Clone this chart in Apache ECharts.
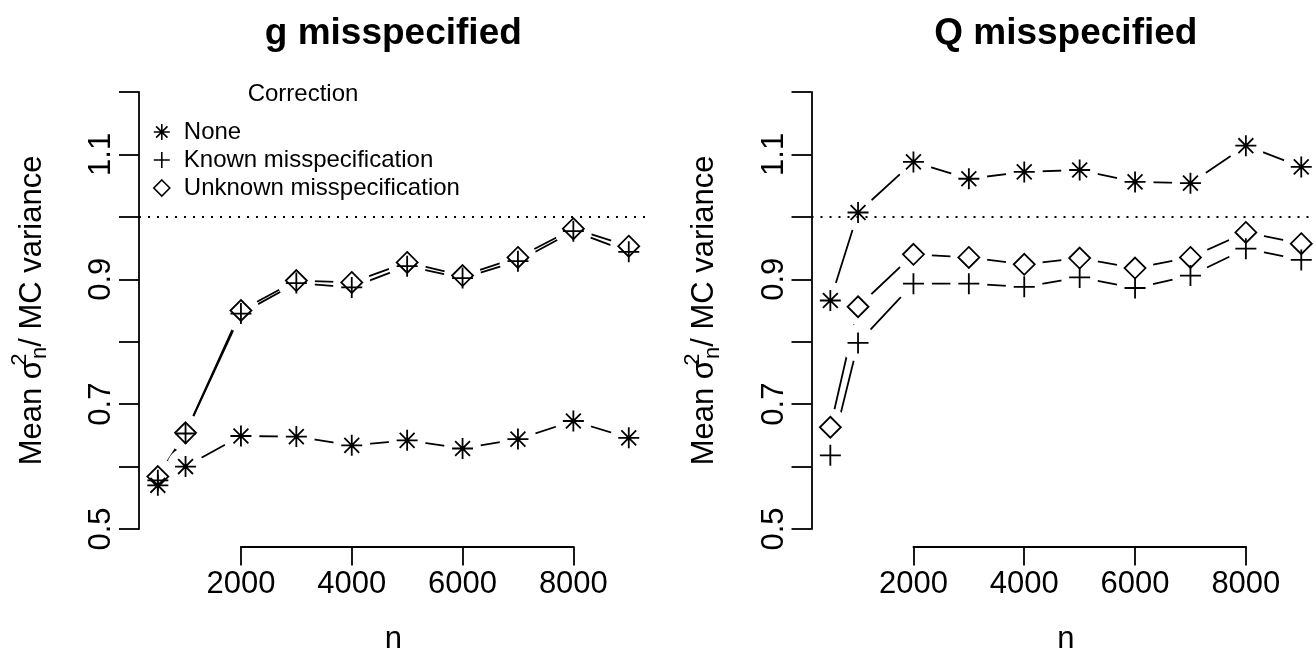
<!DOCTYPE html>
<html><head><meta charset="utf-8">
<script src="https://cdn.jsdelivr.net/npm/echarts@6/dist/echarts.min.js"></script>
<style>html,body{margin:0;padding:0;background:#fff}#c{width:1314px;height:658px}</style>
</head><body><div id="c"></div>
<script>
// ---- data ----
const nValues = [500, 1000, 2000, 3000, 4000, 5000, 6000, 7000, 8000, 9000];
const gNone    = [0.570, 0.600, 0.649, 0.648, 0.634, 0.642, 0.629, 0.644, 0.673, 0.646];
const gKnown   = [0.578, 0.653, 0.845, 0.894, 0.887, 0.921, 0.902, 0.929, 0.977, 0.944];
const gUnknown = [0.584, 0.654, 0.850, 0.898, 0.895, 0.927, 0.906, 0.935, 0.981, 0.953];
const qNone    = [0.866, 1.007, 1.088, 1.061, 1.072, 1.075, 1.056, 1.054, 1.114, 1.080];
const qKnown   = [0.618, 0.798, 0.893, 0.893, 0.888, 0.903, 0.886, 0.906, 0.949, 0.931];
const qUnknown = [0.663, 0.856, 0.940, 0.935, 0.924, 0.934, 0.918, 0.935, 0.975, 0.957];
const xTicks = [2000, 4000, 6000, 8000];
const yTickLabels = ['0.5', '0.7', '0.9', '1.1'];
const referenceLevel = 1.0;
const panelTitles = ['g misspecified', 'Q misspecified'];
const seriesNames = ['None', 'Known misspecification', 'Unknown misspecification'];
const legendTitle = 'Correction';
const xName = 'n';
const yNameRich = '{t|Mean σ}{sup|2}{sub|n}{t|/ MC variance}';

// ---- layout / style ----
const FONT = "'Liberation Sans', Arial, Helvetica, sans-serif";
const X_RANGE = [160, 9340];
const Y_RANGE = [0.472, 1.228];
const Y_TICK_RANGE = [0.5, 1.2];
const panelsLayout = [
  { left: 139, top: 74.5, width: 508.6, height: 472 },
  { left: 811.5, top: 74.5, width: 508.6, height: 472 }
];
const STAR = 'path://M0,-1L0,1M-1,0L1,0M-0.7071,-0.7071L0.7071,0.7071M-0.7071,0.7071L0.7071,-0.7071';
const PLUS = 'path://M0,-1L0,1M-1,0L1,0';
const DIAMOND = 'path://M0,-1L1,0L0,1L-1,0Z';
const symbols = [STAR, PLUS, DIAMOND];
const LW = 1.8;

const panelData = [[gNone, gKnown, gUnknown], [qNone, qKnown, qUnknown]];

function px(L, v) { return L.left + (v - X_RANGE[0]) / (X_RANGE[1] - X_RANGE[0]) * L.width; }
function py(L, v) { return L.top + (Y_RANGE[1] - v) / (Y_RANGE[1] - Y_RANGE[0]) * L.height; }

const grids = [], xAxes = [], yAxes = [], series = [], titles = [];
const hiddenAxisBits = { axisLine: { show: false }, axisTick: { show: false }, axisLabel: { show: false }, splitLine: { show: false } };
function mkGrid(left, top, width, height) {
  return { left: left, top: top, width: width, height: height, containLabel: false, outerBoundsMode: 'none' };
}

panelsLayout.forEach((L, p) => {
  const gi = grids.length;
  // data grid
  grids.push(mkGrid(L.left, L.top, L.width, L.height));
  xAxes.push(Object.assign({ type: 'value', gridIndex: gi, min: X_RANGE[0], max: X_RANGE[1],
    name: xName, nameLocation: 'middle', nameGap: 77,
    nameTextStyle: { fontFamily: FONT, fontSize: 31, color: '#000' } }, hiddenAxisBits));
  yAxes.push(Object.assign({ type: 'value', gridIndex: gi, min: Y_RANGE[0], max: Y_RANGE[1],
    name: yNameRich, nameLocation: 'middle', nameRotate: 90, nameGap: 84,
    nameTextStyle: { fontFamily: FONT, color: '#000',
      rich: {
        t: { fontFamily: FONT, fontSize: 31, lineHeight: 46, color: '#000' },
        sup: { fontFamily: FONT, fontSize: 22, lineHeight: 22, verticalAlign: 'top', width: 1, align: 'left', color: '#000' },
        sub: { fontFamily: FONT, fontSize: 22, lineHeight: 22, verticalAlign: 'bottom', padding: [0, 0, 4, 0], color: '#000' }
      } } }, hiddenAxisBits));
  // x decoration grid (axis spans first to last tick)
  const x0 = px(L, xTicks[0]), x1 = px(L, xTicks[xTicks.length - 1]);
  grids.push(mkGrid(x0, L.top, x1 - x0, L.height));
  xAxes.push({ type: 'value', gridIndex: gi + 1, z: 10, min: xTicks[0], max: xTicks[xTicks.length - 1], interval: xTicks[1] - xTicks[0],
    axisLine: { show: true, lineStyle: { color: '#000', width: LW } },
    axisTick: { show: true, inside: false, length: 19, lineStyle: { color: '#000', width: LW } },
    axisLabel: { show: true, margin: 22, fontFamily: FONT, fontSize: 31, color: '#000',
      formatter: v => String(Math.round(v)) },
    splitLine: { show: false } });
  yAxes.push(Object.assign({ type: 'value', gridIndex: gi + 1, min: 0, max: 1, show: false }, hiddenAxisBits));
  // y decoration grid
  const y0 = py(L, Y_TICK_RANGE[1]), y1 = py(L, Y_TICK_RANGE[0]);
  grids.push(mkGrid(L.left, y0, L.width, y1 - y0));
  xAxes.push(Object.assign({ type: 'value', gridIndex: gi + 2, min: 0, max: 1, show: false }, hiddenAxisBits));
  yAxes.push({ type: 'value', gridIndex: gi + 2, z: 10, min: Y_TICK_RANGE[0], max: Y_TICK_RANGE[1], interval: 0.1,
    axisLine: { show: true, lineStyle: { color: '#000', width: LW } },
    axisTick: { show: true, inside: false, length: 20, lineStyle: { color: '#000', width: LW } },
    axisLabel: { show: true, rotate: 90, margin: 22, fontFamily: FONT, fontSize: 31, color: '#000',
      formatter: v => { const s = (+v).toFixed(1); return yTickLabels.indexOf(s) >= 0 ? s : ''; } },
    splitLine: { show: false } });

  titles.push({ text: panelTitles[p], left: L.left + L.width / 2, textAlign: 'center', top: 15.5, padding: 0,
    textStyle: { fontFamily: FONT, fontSize: 37, fontWeight: 'bold', color: '#000' } });

  panelData[p].forEach((vals, g) => {
    const pts = nValues.map((n, i) => [n, vals[i]]);
    series.push({ type: 'line', name: seriesNames[g], xAxisIndex: gi, yAxisIndex: gi, data: pts,
      symbol: 'none', showSymbol: false, silent: true, z: 1,
      lineStyle: { color: '#000', width: LW, opacity: 1 } });
    series.push({ type: 'scatter', name: seriesNames[g], xAxisIndex: gi, yAxisIndex: gi, data: pts,
      symbol: 'circle', symbolSize: 37, silent: true, z: 2, clip: false,
      itemStyle: { color: '#fff', borderWidth: 0, opacity: 1 } });
    const m = { type: 'scatter', name: seriesNames[g], xAxisIndex: gi, yAxisIndex: gi, data: pts,
      symbol: symbols[g], symbolSize: 21, z: 3, clip: false,
      itemStyle: { color: 'transparent', borderColor: '#000', borderWidth: LW, opacity: 1 } };
    if (g === 0) {
      m.markLine = { silent: true, symbol: 'none', label: { show: false },
        lineStyle: { color: '#000', width: LW, type: [2, 7], opacity: 1 },
        data: [{ yAxis: referenceLevel }] };
    }
    series.push(m);
  });
});

titles.push({ text: legendTitle, left: 303, textAlign: 'center', top: 82.7, padding: 0,
  textStyle: { fontFamily: FONT, fontSize: 24, fontWeight: 'normal', color: '#000' } });

const option = {
  animation: false,
  backgroundColor: '#fff',
  title: titles,
  grid: grids,
  xAxis: xAxes,
  yAxis: yAxes,
  legend: {
    orient: 'vertical', left: 153, top: 120, padding: 0, itemWidth: 16, itemHeight: 16, itemGap: 4,
    selectedMode: false,
    textStyle: { fontFamily: FONT, fontSize: 24, lineHeight: 24, color: '#000', padding: [0, 0, 0, 9] },
    data: seriesNames.map((n, i) => ({ name: n, icon: symbols[i],
      itemStyle: { color: 'transparent', borderColor: '#000', borderWidth: 1.6, opacity: 1 } }))
  },
  series: series
};
const chart = echarts.init(document.getElementById('c'));
chart.setOption(option);
</script></body></html>
